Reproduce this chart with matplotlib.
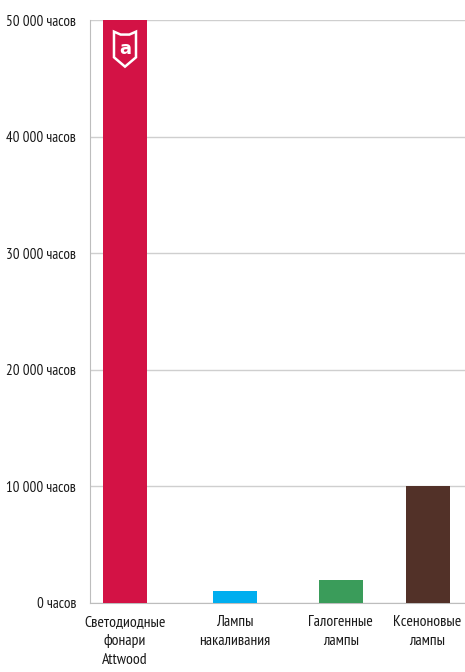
import matplotlib.pyplot as plt
from matplotlib.patches import Polygon
from matplotlib import font_manager

names = ["Светодиодные\nфонари\nAttwood", "Лампы\nнакаливания", "Галогенные\nлампы", "Ксеноновые\nлампы"]
hours = [50000, 1000, 2000, 10000]
positions = [0, 1, 1.96, 2.75]
colors = ["#d31245", "#00aeef", "#3a9c5a", "#523128"]
yticks = [0, 10000, 20000, 30000, 40000, 50000]
ylabels = ["0 часов", "10 000 часов", "20 000 часов", "30 000 часов", "40 000 часов", "50 000 часов"]

# узкий шрифт, если есть
avail = {f.name for f in font_manager.fontManager.ttflist}
fam = "DejaVu Sans"
xsize, ysize = 9.5, 8.5
for cand in ["PT Sans Narrow", "Roboto Condensed", "Fira Sans Condensed", "Open Sans Condensed",
             "Liberation Sans Narrow", "Fira Sans Extra Condensed"]:
    if cand in avail:
        fam = cand
        xsize, ysize = 11.3, 10.8
        break
plt.rcParams["font.family"] = [fam, "DejaVu Sans"]

fig = plt.figure(figsize=(4.65, 6.72), dpi=100)
ax = fig.add_axes([90 / 465, 1 - 603 / 672, 1 - 90 / 465, 583 / 672])

ax.bar(positions, hours, width=0.4, color=colors, zorder=3)

ax.set_ylim(0, 50000)
ax.set_xlim(-0.318, 3.09)
ax.set_yticks(yticks)
ax.set_yticklabels(ylabels, fontsize=ysize, color="#1a1a1a")
ax.set_xticks(positions)
ax.set_xticklabels(names, fontsize=xsize, color="#1a1a1a", linespacing=1.45)
ax.tick_params(length=0)
ax.tick_params(axis="y", pad=10)
ax.tick_params(axis="x", pad=9)
ax.yaxis.grid(True, color="#cfcfcf", linewidth=1, zorder=0)

for s in ["top", "right"]:
    ax.spines[s].set_visible(False)
ax.spines["left"].set_color("#bdbdbd")
ax.spines["bottom"].set_color("#bdbdbd")

# щит с логотипом на первом столбце
sx, sy = positions[0], hours[0]
shield = [(-0.1, -1000), (-0.04, -1250), (0.04, -1250), (0.1, -1000), (0.1, -3200), (0.0, -4000), (-0.1, -3200)]
ax.add_patch(Polygon([(sx + dx, sy + dy) for dx, dy in shield], closed=True,
                     facecolor="none", edgecolor="white", linewidth=1.8, zorder=4))
ax.text(sx, sy - 2450, "a", color="white", fontsize=13, fontweight="bold",
        ha="center", va="center", zorder=5, family="DejaVu Sans")

fig.savefig("out.png", dpi=100)
